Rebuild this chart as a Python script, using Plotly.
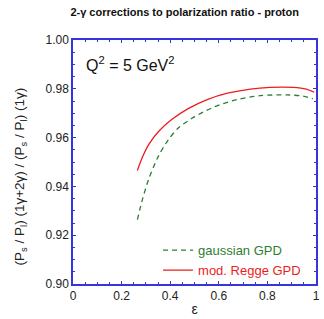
import plotly.graph_objects as go

eps_regge = [0.265, 0.285, 0.312, 0.352, 0.406, 0.474, 0.555, 0.636, 0.730, 0.811, 0.906, 0.960, 0.993]
ratio_regge = [0.9465, 0.9518, 0.9572, 0.9625, 0.9674, 0.9719, 0.9757, 0.9782, 0.9799, 0.9806, 0.9806, 0.9799, 0.9786]

eps_gauss = [0.265, 0.285, 0.312, 0.352, 0.393, 0.433, 0.501, 0.582, 0.676, 0.770, 0.879, 0.946, 0.987]
ratio_gauss = [0.9264, 0.9344, 0.9431, 0.9525, 0.9592, 0.9639, 0.9686, 0.9726, 0.9756, 0.9772, 0.9775, 0.9770, 0.9759]

x_ticks = [0, 0.2, 0.4, 0.6, 0.8, 1.0]
x_ticklabels = ["0", "0.2", "0.4", "0.6", "0.8", "1"]
y_ticks = [0.90, 0.92, 0.94, 0.96, 0.98, 1.00]
y_ticklabels = ["0.90", "0.92", "0.94", "0.96", "0.98", "1.00"]

GREEN = "#2e7d32"
RED = "#ee1c1c"
AXIS = "#3535e0"
FONT = "Liberation Sans, Arial, sans-serif"

fig = go.Figure()
fig.add_trace(go.Scatter(
    x=eps_gauss, y=ratio_gauss, mode="lines", line_shape="spline", line_smoothing=0.8,
    line=dict(color=GREEN, width=1.3, dash="5px,4px"),
    name=f"<span style='color:{GREEN}'>gaussian GPD</span>"))
fig.add_trace(go.Scatter(
    x=eps_regge, y=ratio_regge, mode="lines", line_shape="spline", line_smoothing=0.8,
    line=dict(color=RED, width=1.3),
    name=f"<span style='color:{RED}'>mod. Regge GPD</span>"))

axis_common = dict(
    showline=True, linecolor=AXIS, linewidth=1.5, mirror="ticks",
    ticks="inside", ticklen=3, tickcolor=AXIS, tickwidth=1,
    showgrid=False, zeroline=False,
    tickfont=dict(family=FONT, size=12, color="#222222"),
)

fig.update_xaxes(
    range=[0, 1], tickvals=x_ticks, ticktext=x_ticklabels,
    minor=dict(dtick=0.05, tick0=0, ticks="inside", ticklen=2, tickcolor=AXIS),
    title=dict(text="ε", font=dict(family=FONT, size=14, color="#222222"), standoff=2),
    **axis_common)
fig.update_yaxes(
    range=[0.90, 1.00], tickvals=y_ticks, ticktext=y_ticklabels,
    minor=dict(dtick=0.005, tick0=0.9, ticks="inside", ticklen=2, tickcolor=AXIS),
    **axis_common)

fig.add_annotation(
    xref="paper", yref="paper", x=-0.215, y=0.44, xanchor="center", yanchor="middle",
    textangle=-90, showarrow=False,
    text="(P<sub>s</sub> / P<sub>l</sub>) (1γ+2γ) / (P<sub>s</sub> / P<sub>l</sub>) (1γ)",
    font=dict(family=FONT, size=13.5, color="#222222"))

fig.add_annotation(
    x=0.045, y=0.995, xref="x", yref="y", xanchor="left", yanchor="top",
    text="Q<sup>2</sup> = 5 GeV<sup>2</sup>", showarrow=False,
    font=dict(family=FONT, size=16, color="#111111"))

fig.update_layout(
    width=324, height=319,
    margin=dict(l=73, r=4, t=40, b=30),
    paper_bgcolor="white", plot_bgcolor="white",
    title=dict(text="<b>2-γ corrections to polarization ratio - proton</b>",
               x=0.57, xanchor="center", y=0.962, yanchor="middle",
               font=dict(family=FONT, size=11, color="#111111")),
    legend=dict(x=0.35, y=0.2, xanchor="left", yanchor="top",
                bgcolor="rgba(0,0,0,0)", font=dict(family=FONT, size=13),
                itemwidth=30, tracegroupgap=0),
    showlegend=True,
)

fig.write_html("out.html", config={"displayModeBar": False},
               post_script="document.body.style.margin='0';document.body.style.overflow='hidden';")
